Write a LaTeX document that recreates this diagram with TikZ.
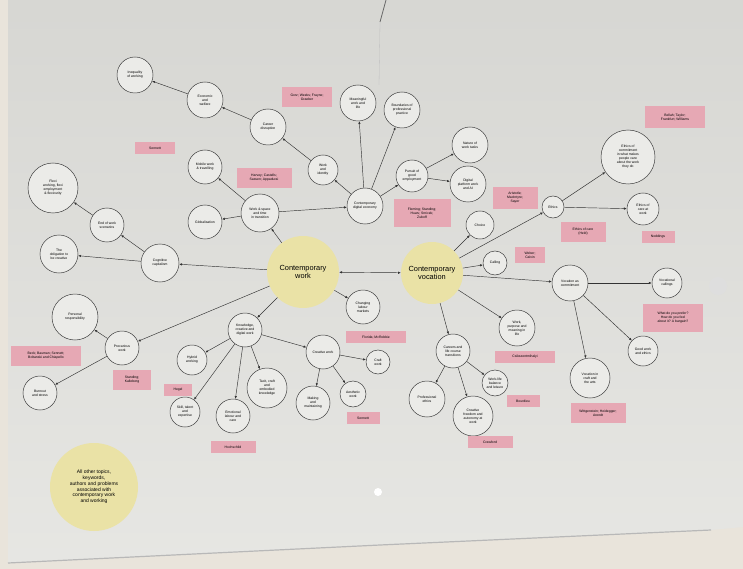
\documentclass[tikz,border=0pt]{standalone}
\usepackage{fontspec}
\setmainfont{Liberation Sans}
\usetikzlibrary{arrows.meta}
\definecolor{paper}{RGB}{226,226,222}
\definecolor{floor}{RGB}{233,228,219}
\definecolor{pinknote}{RGB}{230,168,180}
\definecolor{topic}{RGB}{234,226,166}
\begin{document}
\begin{tikzpicture}[x=1pt,y=-1pt,
                    idea/.style = {circle,
                                draw=black!75,
                                line width=0.5pt,
                                fill=paper!70!white,
                                inner sep=0pt,
                                align=center,
                                font=\fontsize{3.4}{4}\selectfont},
                    main/.style = {circle,
                                fill=topic,
                                inner sep=0pt,
                                align=center,
                                font=\fontsize{7.4}{8.6}\selectfont},
                    note/.style = {fill=pinknote,
                                inner sep=1.6pt,
                                minimum height=12pt,
                                align=center,
                                font=\fontsize{3.4}{4}\selectfont},
                    link/.style = {draw=black!80,
                                line width=0.45pt,
                                -{Latex[length=2.8pt,width=2.4pt]}}]
                    \useasboundingbox (0,0) rectangle (743,569);
                    % Photo background and poster sheet
                    \fill[floor] (0,0) rectangle (743,569);
                    \shade[top color=black!5!paper, bottom color=paper!85!white]
                        (8,0) -- (743,0) -- (743,527) -- (711,530) -- (380,545) -- (8,563) -- cycle;
                    \draw[black!28, line width=1.2pt] (8,563) -- (380,545) -- (711,530);
                    % Punched holes and cable
                    \fill[black!13] (718,286) circle (9);
                    \fill[white] (378,492) circle (4);
                    \draw[black!60, line width=0.8pt] (386,0) -- (380,22);
                    \draw[black!25, line width=0.3pt] (380,22) -- (379,85);
                    % Central topics
                    \node[main, minimum size=72pt] (CW) at (303,272) {Contemporary\\work};
                    \node[main, minimum size=62pt] (CV) at (432,273) {Contemporary\\vocation};
                    \node[main, minimum size=88pt, font=\fontsize{5}{5.8}\selectfont] (all) at (94,487) {All other topics,\\keywords,\\authors and problems\\associated with\\contemporary work\\and working};
                    \draw[draw=black!80, line width=0.45pt, {Latex[length=2.8pt,width=2.4pt]}-{Latex[length=2.8pt,width=2.4pt]}] (CW) -- (CV);
                    % Upper left branch
                    \node[idea, minimum size=36pt] (ineq) at (135,75) {Inequality\\of working};
                    \node[idea, minimum size=36pt] (econ) at (205,100) {Economic\\and\\welfare};
                    \node[idea, minimum size=36pt] (career) at (268,127) {Career\\disruption};
                    \node[idea, minimum size=30pt] (ident) at (323,170) {Work\\and\\identity};
                    \node[idea, minimum size=36pt] (digital) at (365,206) {Contemporary\\digital economy};
                    \node[idea, minimum size=36pt] (meaning) at (358,103) {Meaningful\\work and\\life};
                    \node[idea, minimum size=36pt] (bound) at (402,110) {Boundaries of\\professional\\practice};
                    \node[idea, minimum size=32pt] (pursuit) at (412,176) {Pursuit of\\good\\employment};
                    \node[idea, minimum size=36pt] (tasks) at (470,145) {Nature of\\work tasks};
                    \node[idea, minimum size=36pt] (platform) at (468,184) {Digital\\platform work\\and AI};
                    \draw[link] (econ) -- (ineq);
                    \draw[link] (career) -- (econ);
                    \draw[link] (ident) -- (career);
                    \draw[link] (digital) -- (ident);
                    \draw[link] (digital) -- (meaning);
                    \draw[link] (digital) -- (bound);
                    \draw[link] (digital) -- (pursuit);
                    \draw[link] (pursuit) -- (tasks);
                    \draw[link] (pursuit) -- (platform);
                    % Work and space
                    \node[idea, minimum size=38pt] (space) at (260,213) {Work \& space\\and time\\in transition};
                    \node[idea, minimum size=34pt] (mobile) at (205,167) {Mobile work\\\& travelling};
                    \node[idea, minimum size=34pt] (global) at (205,222) {Globalisation};
                    \draw[link] (CW) -- (space);
                    \draw[link] (space) -- (digital);
                    \draw[link] (space) -- (mobile);
                    \draw[link] (space) -- (global);
                    % Left branch
                    \node[idea, minimum size=50pt] (flexi) at (53,188) {Flexi\\working, flexi\\employment\\\& flexicurity};
                    \node[idea, minimum size=34pt] (endwork) at (107,225) {End of work\\scenarios};
                    \node[idea, minimum size=38pt] (oblig) at (59,254) {The\\obligation to\\be creative};
                    \node[idea, minimum size=38pt] (cogn) at (160,263) {Cognitive\\capitalism};
                    \draw[link] (CW) -- (cogn);
                    \draw[link] (cogn) -- (endwork);
                    \draw[link] (cogn) -- (oblig);
                    \draw[link] (endwork) -- (flexi);
                    % Lower left branch
                    \node[idea, minimum size=46pt] (respons) at (75,317) {Personal\\responsibility};
                    \node[idea, minimum size=34pt] (precar) at (122,348) {Precarious\\work};
                    \node[idea, minimum size=34pt] (burnout) at (40,393) {Burnout\\and stress};
                    \draw[link] (CW) -- (precar);
                    \draw[link] (precar) -- (respons);
                    \draw[link] (precar) -- (burnout);
                    % Knowledge and creative work
                    \node[idea, minimum size=34pt] (know) at (245,330) {Knowledge,\\creative and\\digital work};
                    \node[idea, minimum size=30pt] (hybrid) at (192,360) {Hybrid\\working};
                    \node[idea, minimum size=30pt] (skill) at (185,412) {Skill, talent\\and\\expertise};
                    \node[idea, minimum size=34pt] (emot) at (233,416) {Emotional\\labour and\\care};
                    \node[idea, minimum size=40pt] (tacit) at (267,388) {Tacit, craft\\and\\embodied\\knowledge};
                    \node[idea, minimum size=34pt] (creat) at (323,352) {Creative work};
                    \node[idea, minimum size=24pt] (craft) at (378,362) {Craft\\work};
                    \node[idea, minimum size=34pt] (making) at (313,403) {Making\\and\\maintaining};
                    \node[idea, minimum size=26pt] (aesth) at (353,394) {Aesthetic\\work};
                    \node[idea, minimum size=34pt] (labour) at (363,307) {Changing\\labour\\markets};
                    \draw[link] (CW) -- (know);
                    \draw[link] (know) -- (hybrid);
                    \draw[link] (know) -- (skill);
                    \draw[link] (know) -- (emot);
                    \draw[link] (know) -- (tacit);
                    \draw[link] (know) -- (creat);
                    \draw[link] (creat) -- (craft);
                    \draw[link] (creat) -- (making);
                    \draw[link] (creat) -- (aesth);
                    \draw[link] (CW) -- (labour);
                    % Vocation branch
                    \node[idea, minimum size=24pt] (calling) at (495,263) {Calling};
                    \node[idea, minimum size=36pt] (commit) at (570,283) {Vocation as\\commitment};
                    \node[idea, minimum size=36pt] (purpose) at (517,328) {Work,\\purpose and\\meaning in\\life};
                    \node[idea, minimum size=34pt] (course) at (453,351) {Careers and\\life course\\transitions};
                    \node[idea, minimum size=36pt] (prof) at (427,399) {Professional\\ethics};
                    \node[idea, minimum size=40pt] (freedom) at (473,416) {Creative\\freedom and\\autonomy at\\work};
                    \node[idea, minimum size=26pt] (balance) at (495,383) {Work-life\\balance\\and leisure};
                    \node[idea, minimum size=30pt] (vocat) at (667,283) {Vocational\\callings};
                    \node[idea, minimum size=30pt] (good) at (643,351) {Good work\\and ethics};
                    \node[idea, minimum size=40pt] (arts) at (590,378) {Vocation in\\craft and\\the arts};
                    \node[idea, minimum size=22pt] (ethics) at (553,207) {Ethics};
                    \node[idea, minimum size=54pt] (why) at (628,157) {Ethics of\\commitment\\in what makes\\people care\\about the work\\they do};
                    \node[idea, minimum size=32pt] (care) at (643,209) {Ethics of\\care at\\work};
                    \node[idea, minimum size=28pt] (choice) at (480,225) {Choice};
                    \draw[link] (CV) -- (calling);
                    \draw[link] (CV) -- (commit);
                    \draw[link] (CV) -- (purpose);
                    \draw[link] (CV) -- (course);
                    \draw[link] (CV) -- (ethics);
                    \draw[link] (CV) -- (choice);
                    \draw[link] (course) -- (prof);
                    \draw[link] (course) -- (freedom);
                    \draw[link] (course) -- (balance);
                    \draw[link] (commit) -- (vocat);
                    \draw[link] (commit) -- (good);
                    \draw[link] (commit) -- (arts);
                    \draw[link] (ethics) -- (why);
                    \draw[link] (ethics) -- (care);
                    % Pink author labels
                    \node[note, minimum width=40pt] at (155,148) {Sennett};
                    \node[note, minimum width=55pt, minimum height=20pt] at (264,178) {Harvey; Castells;\\Sassen; Appadurai};
                    \node[note, minimum width=50pt, minimum height=20pt] at (307,97) {Gorz; Weeks; Frayne;\\Graeber};
                    \node[note, minimum width=57pt, minimum height=27pt] at (422,213) {Fleming; Standing;\\Huws; Srnicek;\\Zuboff};
                    \node[note, minimum width=45pt, minimum height=22pt] at (515,198) {Aristotle;\\MacIntyre;\\Sayer};
                    \node[note, minimum width=70pt, minimum height=20pt] at (46,356) {Beck; Bauman; Sennett;\\Boltanski and Chiapello};
                    \node[note, minimum width=38pt, minimum height=20pt] at (132,380) {Standing;\\Kalleberg};
                    \node[note, minimum width=28pt] at (178,390) {Hegel};
                    \node[note, minimum width=45pt] at (233,447) {Hochschild};
                    \node[note, minimum width=33pt] at (363,418) {Sennett};
                    \node[note, minimum width=60pt] at (376,337) {Florida; McRobbie};
                    \node[note, minimum width=30pt, minimum height=16pt] at (530,255) {Weber;\\Calvin};
                    \node[note, minimum width=60pt] at (525,357) {Csikszentmihalyi};
                    \node[note, minimum width=33pt] at (523,401) {Bourdieu};
                    \node[note, minimum width=45pt] at (490,442) {Crawford};
                    \node[note, minimum width=60pt, minimum height=28pt] at (673,318) {What do you prefer?\\How do you feel\\about it? A bargain?};
                    \node[note, minimum width=55pt, minimum height=20pt] at (598,413) {Wittgenstein; Heidegger;\\Arendt};
                    \node[note, minimum width=60pt, minimum height=22pt] at (675,117) {Bellah; Taylor;\\Frankfurt; Williams};
                    \node[note, minimum width=45pt, minimum height=20pt] at (583,232) {Ethics of care\\(Held)};
                    \node[note, minimum width=33pt] at (658,237) {Noddings};
                \end{tikzpicture}
\end{document}
